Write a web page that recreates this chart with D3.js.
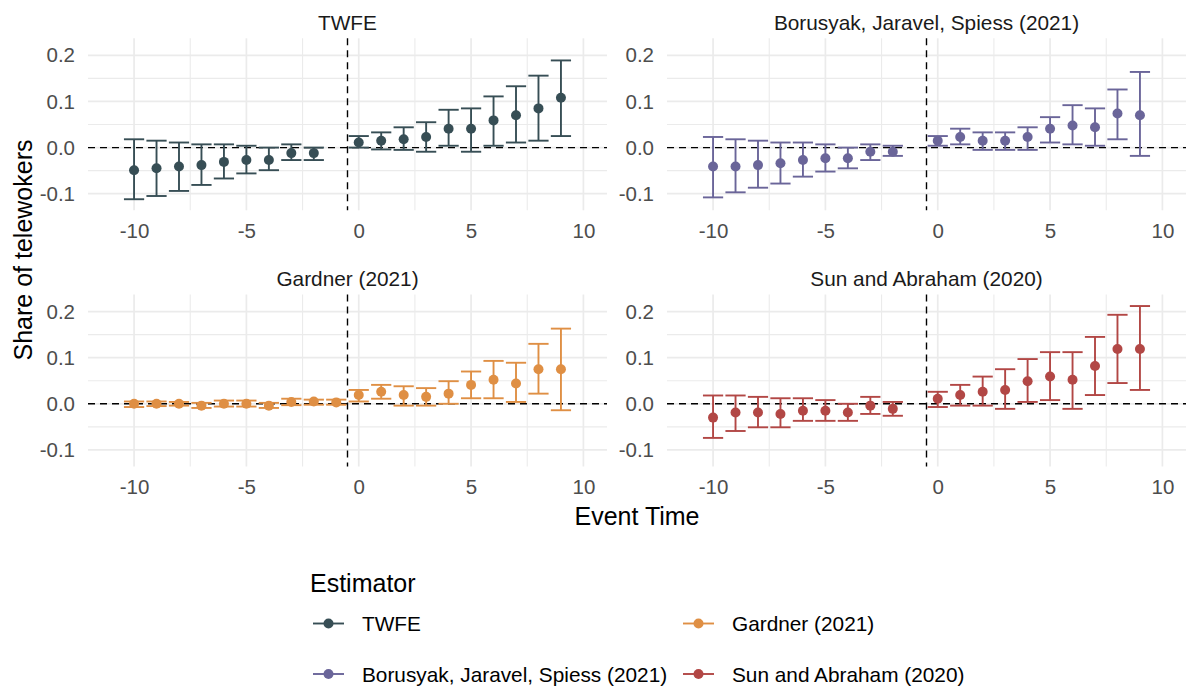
<!DOCTYPE html>
<html>
<head>
<meta charset="utf-8">
<script src="https://cdn.jsdelivr.net/npm/d3@7"></script>
<style>
  body { margin: 0; background: #fff; }
  text { font-family: "Liberation Sans", Arial, sans-serif; }
</style>
</head>
<body>
<svg id="chart" width="1186" height="690"></svg>
<script>
// event times (reference period -1 dropped for most estimators)
const timesNoRef = [-10, -9, -8, -7, -6, -5, -4, -3, -2, 0, 1, 2, 3, 4, 5, 6, 7, 8, 9];
const timesAll = [-10, -9, -8, -7, -6, -5, -4, -3, -2, -1, 0, 1, 2, 3, 4, 5, 6, 7, 8, 9];

const estimators = ["TWFE", "Borusyak, Jaravel, Spiess (2021)", "Gardner (2021)", "Sun and Abraham (2020)"];
const colors = ["#374E55", "#6A6599", "#DF8F44", "#B24745"];

// TWFE
const twfeEst = [-0.049, -0.045, -0.041, -0.038, -0.031, -0.027, -0.027, -0.012, -0.012, 0.011, 0.015, 0.018, 0.023, 0.041, 0.041, 0.059, 0.070, 0.085, 0.108];
const twfeLo  = [-0.112, -0.105, -0.094, -0.081, -0.067, -0.056, -0.049, -0.027, -0.027, 0.000, -0.004, -0.005, -0.009, 0.004, -0.009, 0.004, 0.011, 0.015, 0.025];
const twfeHi  = [0.018, 0.015, 0.011, 0.007, 0.007, 0.004, 0.000, 0.007, 0.000, 0.025, 0.033, 0.044, 0.055, 0.082, 0.085, 0.111, 0.133, 0.156, 0.189];

// Borusyak, Jaravel, Spiess
const bjsEst = [-0.041, -0.041, -0.038, -0.034, -0.027, -0.023, -0.023, -0.009, -0.009, 0.015, 0.023, 0.015, 0.015, 0.023, 0.041, 0.048, 0.044, 0.074, 0.070];
const bjsLo  = [-0.108, -0.097, -0.087, -0.078, -0.063, -0.052, -0.045, -0.027, -0.018, 0.004, 0.007, -0.005, -0.005, -0.005, 0.011, 0.007, 0.004, 0.018, -0.018];
const bjsHi  = [0.023, 0.018, 0.015, 0.011, 0.011, 0.007, 0.000, 0.007, 0.004, 0.025, 0.041, 0.033, 0.033, 0.044, 0.066, 0.092, 0.085, 0.126, 0.164];

// Gardner (includes -1)
const gardEst = [0.000, 0.000, 0.000, -0.004, 0.000, 0.000, -0.004, 0.004, 0.005, 0.003, 0.019, 0.026, 0.019, 0.015, 0.022, 0.041, 0.052, 0.044, 0.075, 0.075];
const gardLo  = [-0.007, -0.005, -0.004, -0.009, -0.006, -0.006, -0.009, -0.003, -0.002, -0.002, 0.005, 0.011, -0.004, -0.004, 0.000, 0.012, 0.012, 0.004, 0.022, -0.014];
const gardHi  = [0.005, 0.005, 0.004, 0.002, 0.007, 0.007, 0.002, 0.011, 0.009, 0.009, 0.030, 0.041, 0.038, 0.034, 0.049, 0.070, 0.093, 0.089, 0.130, 0.163];

// Sun and Abraham
const saEst = [-0.030, -0.019, -0.019, -0.022, -0.015, -0.015, -0.019, -0.004, -0.011, 0.011, 0.019, 0.026, 0.030, 0.049, 0.059, 0.052, 0.082, 0.119, 0.119];
const saLo  = [-0.074, -0.059, -0.051, -0.051, -0.037, -0.037, -0.037, -0.022, -0.026, -0.007, -0.004, -0.004, -0.011, 0.004, 0.008, -0.011, 0.019, 0.045, 0.030];
const saHi  = [0.018, 0.018, 0.015, 0.012, 0.012, 0.008, 0.000, 0.015, 0.004, 0.026, 0.041, 0.059, 0.075, 0.097, 0.112, 0.112, 0.145, 0.193, 0.212];

const xTicks = [-10, -5, 0, 5, 10];
const xMinor = [-7.5, -2.5, 2.5, 7.5];
const yTicks = [-0.1, 0, 0.1, 0.2];
const yMinor = [-0.05, 0.05, 0.15];

function rows(times, est, lo, hi) {
  return times.map((t, i) => ({t: t, est: est[i], lo: lo[i], hi: hi[i]}));
}
const series = [
  rows(timesNoRef, twfeEst, twfeLo, twfeHi),
  rows(timesNoRef, bjsEst, bjsLo, bjsHi),
  rows(timesAll, gardEst, gardLo, gardHi),
  rows(timesNoRef, saEst, saLo, saHi)
];

const svg = d3.select("#chart");
const fmt = d => d3.format(".1f")(d).replace("\u2212", "-");
const fmtX = d => String(d);

const panelW = 519, panelH = 172;
const lefts = [88, 667], tops = [38.3, 294.5];

const xs = d3.scaleLinear().domain([-12.05, 11.05]).range([0, panelW]);
const ys = d3.scaleLinear().domain([-0.136, 0.237]).range([panelH, 0]);

estimators.forEach((name, k) => {
  const g = svg.append("g")
    .attr("transform", "translate(" + lefts[k % 2] + "," + tops[Math.floor(k / 2)] + ")");

  // grid
  g.selectAll(".vmin").data(xMinor).enter().append("line")
    .attr("x1", d => xs(d)).attr("x2", d => xs(d)).attr("y1", 0).attr("y2", panelH)
    .attr("stroke", "#EBEBEB").attr("stroke-width", 1.1);
  g.selectAll(".hmin").data(yMinor).enter().append("line")
    .attr("y1", d => ys(d)).attr("y2", d => ys(d)).attr("x1", 0).attr("x2", panelW)
    .attr("stroke", "#EBEBEB").attr("stroke-width", 1.1);
  g.selectAll(".vmaj").data(xTicks).enter().append("line")
    .attr("x1", d => xs(d)).attr("x2", d => xs(d)).attr("y1", 0).attr("y2", panelH)
    .attr("stroke", "#EBEBEB").attr("stroke-width", 1.7);
  g.selectAll(".hmaj").data(yTicks).enter().append("line")
    .attr("y1", d => ys(d)).attr("y2", d => ys(d)).attr("x1", 0).attr("x2", panelW)
    .attr("stroke", "#EBEBEB").attr("stroke-width", 1.7);

  // strip title
  g.append("text")
    .attr("x", panelW / 2).attr("y", -16)
    .attr("text-anchor", "middle").attr("dominant-baseline", "central")
    .attr("font-size", 20.8).attr("fill", "#1A1A1A")
    .text(name);

  // reference lines
  g.append("line")
    .attr("x1", 0).attr("x2", panelW).attr("y1", ys(0)).attr("y2", ys(0))
    .attr("stroke", "#000").attr("stroke-width", 1.4).attr("stroke-dasharray", "7,5");
  g.append("line")
    .attr("x1", xs(-0.5)).attr("x2", xs(-0.5)).attr("y1", 0).attr("y2", panelH)
    .attr("stroke", "#000").attr("stroke-width", 1.4).attr("stroke-dasharray", "7,5");

  // error bars and points
  const col = colors[k];
  const pts = g.append("g").selectAll("g").data(series[k]).enter().append("g");
  pts.append("line")
    .attr("x1", d => xs(d.t)).attr("x2", d => xs(d.t))
    .attr("y1", d => ys(d.lo)).attr("y2", d => ys(d.hi))
    .attr("stroke", col).attr("stroke-width", 1.9);
  pts.append("line")
    .attr("x1", d => xs(d.t - 0.45)).attr("x2", d => xs(d.t + 0.45))
    .attr("y1", d => ys(d.hi)).attr("y2", d => ys(d.hi))
    .attr("stroke", col).attr("stroke-width", 1.9);
  pts.append("line")
    .attr("x1", d => xs(d.t - 0.45)).attr("x2", d => xs(d.t + 0.45))
    .attr("y1", d => ys(d.lo)).attr("y2", d => ys(d.lo))
    .attr("stroke", col).attr("stroke-width", 1.9);
  pts.append("circle")
    .attr("cx", d => xs(d.t)).attr("cy", d => ys(d.est)).attr("r", 5)
    .attr("fill", col);

  // axes
  const ax = g.append("g")
    .attr("transform", "translate(0," + panelH + ")")
    .call(d3.axisBottom(xs).tickValues(xTicks).tickFormat(fmtX).tickSize(0).tickPadding(13));
  const ay = g.append("g")
    .call(d3.axisLeft(ys).tickValues(yTicks).tickFormat(fmt).tickSize(0).tickPadding(13));
  [ax, ay].forEach(a => {
    a.select(".domain").remove();
    a.selectAll("text").attr("font-size", 20.5).attr("fill", "#4D4D4D")
      .attr("font-family", "'Liberation Sans', Arial, sans-serif");
  });
});

// axis titles
svg.append("text")
  .attr("x", 637).attr("y", 516)
  .attr("text-anchor", "middle").attr("dominant-baseline", "central")
  .attr("font-size", 25).attr("fill", "#000")
  .text("Event Time");
svg.append("text")
  .attr("transform", "translate(23,250) rotate(-90)")
  .attr("text-anchor", "middle").attr("dominant-baseline", "central")
  .attr("font-size", 25).attr("fill", "#000")
  .text("Share of telewokers");

// legend
const legend = svg.append("g");
legend.append("text")
  .attr("x", 310).attr("y", 583)
  .attr("dominant-baseline", "central")
  .attr("font-size", 25).attr("fill", "#000")
  .text("Estimator");
const keyX = [313, 683], keyY = [623.5, 674];
estimators.forEach((name, k) => {
  const kx = keyX[Math.floor(k / 2)], ky = keyY[k % 2];
  const item = legend.append("g").attr("transform", "translate(" + kx + "," + ky + ")");
  item.append("line").attr("x1", 0).attr("x2", 31).attr("y1", 0).attr("y2", 0)
    .attr("stroke", colors[k]).attr("stroke-width", 1.9);
  item.append("circle").attr("cx", 15.5).attr("cy", 0).attr("r", 5).attr("fill", colors[k]);
  item.append("text").attr("x", 49).attr("y", 0)
    .attr("dominant-baseline", "central")
    .attr("font-size", 20.8).attr("fill", "#000")
    .text(name);
});
</script>
</body>
</html>
